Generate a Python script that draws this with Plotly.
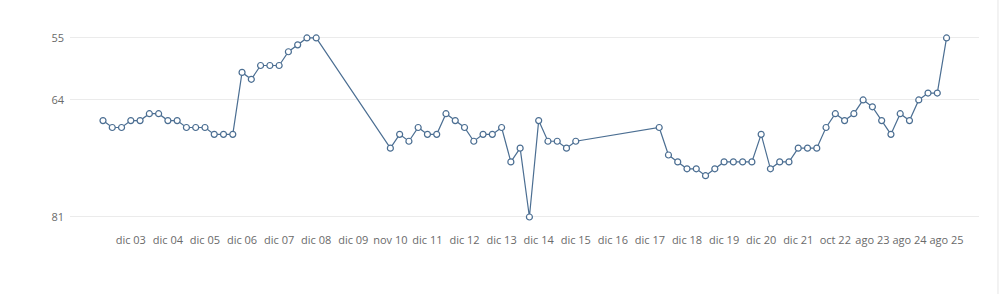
import plotly.graph_objects as go

# Slot index of each observation (quarterly slots); None = no observation
values = [67, 68, 68, 67, 67, 66, 66, 67, 67, 68, 68, 68, 69, 69, 69, 60, 61, 59, 59, 59, 57, 56, 55, 55,
          None, None, None, None, None, None, None,
          71, 69, 70, 68, 69, 69, 66, 67, 68, 70, 69, 69, 68, 73, 71, 81, 67, 70, 70, 71, 70,
          None, None, None, None, None, None, None, None,
          68, 72, 73, 74, 74, 75, 74, 73, 73, 73, 73, 69, 74, 73, 73, 71, 71, 71, 68, 66, 67, 66, 64, 65,
          67, 69, 66, 67, 64, 63, 63, 55]
slots = list(range(len(values)))

tick_labels = ["dic 03", "dic 04", "dic 05", "dic 06", "dic 07", "dic 08", "dic 09", "nov 10",
               "dic 11", "dic 12", "dic 13", "dic 14", "dic 15", "dic 16", "dic 17", "dic 18",
               "dic 19", "dic 20", "dic 21", "oct 22", "ago 23", "ago 24", "ago 25"]
tick_slots = [3 + 4 * i for i in range(len(tick_labels))]
y_ticks = [55, 64, 81]

fig = go.Figure(go.Scatter(
    x=slots, y=values, mode="lines+markers", connectgaps=True,
    line=dict(color="#4b6e92", width=1.2),
    marker=dict(size=6, color="white", line=dict(color="#4b6e92", width=1.2)),
    hoverinfo="x+y",
))

fig.update_layout(
    width=1000, height=294,
    margin=dict(l=70, r=21, t=20, b=62),
    paper_bgcolor="white", plot_bgcolor="white",
    font=dict(family="Open Sans", size=11, color="#666666"),
    showlegend=False,
    xaxis=dict(range=[-3.56, 94.5], tickvals=tick_slots, ticktext=tick_labels,
               showgrid=False, zeroline=False, showline=False, ticks="",
               tickfont=dict(size=11, color="#6a6a6a")),
    yaxis=dict(range=[83.18, 52.39], tickvals=y_ticks, showgrid=True,
               gridcolor="#ebebeb", gridwidth=1, zeroline=False, showline=False, ticks="",
               ticklabelstandoff=5,
               tickfont=dict(size=11, color="#6a6a6a")),
    shapes=[dict(type="line", xref="paper", yref="paper", x0=1.0209, x1=1.0209, y0=-0.3, y1=1.1,
                 line=dict(color="#e6e6e6", width=1))],
)

fig.write_html("out.html")
